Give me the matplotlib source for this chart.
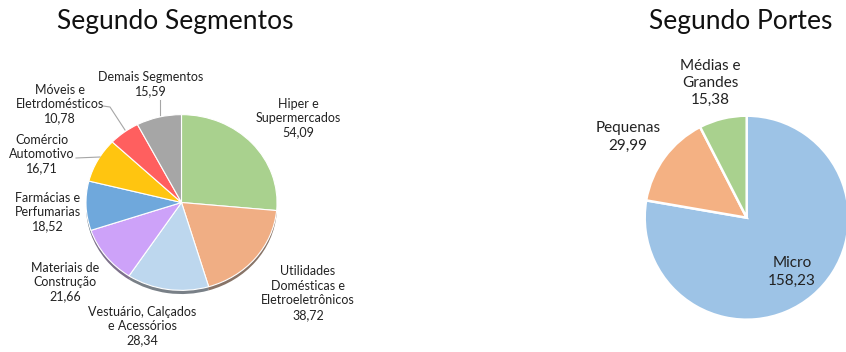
"""Segundo Segmentos / Segundo Portes - two pie charts"""

import matplotlib
matplotlib.use('Agg')
import matplotlib.pyplot as plt
import matplotlib.colors as mcolors
from matplotlib.transforms import Affine2D

plt.rcParams['font.family'] = ['Lato', 'DejaVu Sans']

# Data - left pie (segments), clockwise from the top
seg_labels = ['Hiper e\nSupermercados', 'Utilidades\nDomésticas e\nEletroeletrônicos',
              'Vestuário, Calçados\ne Acessórios', 'Materiais de\nConstrução',
              'Farmácias e\nPerfumarias', 'Comércio\nAutomotivo',
              'Móveis e\nEletrdomésticos', 'Demais Segmentos']
seg_values = [54.09, 38.72, 28.34, 21.66, 18.52, 16.71, 10.78, 15.59]
seg_colors = ['#A9D18E', '#F0AE84', '#BDD7EE', '#CDA2F9',
              '#6FA8DC', '#FFC510', '#FF5F5F', '#A6A6A6']

# Data - right pie (company size), clockwise from the top
size_labels = ['Micro', 'Pequenas', 'Médias e\nGrandes']
size_values = [158.23, 29.99, 15.38]
size_colors = ['#9DC3E6', '#F4B183', '#A9D18E']

W, H = 846, 352


def fmt(v):
    return f'{v:.2f}'.replace('.', ',')


def Y(y):
    # pixel row (from top) -> data y
    return H - y


fig = plt.figure(figsize=(W / 100, H / 100), dpi=100)
ax = fig.add_axes([0, 0, 1, 1])

# Left pie: slightly tilted (elliptical) with a dark rim underneath
cx, cy, r = 181.5, Y(202.5), 95.5
squash = Affine2D().translate(-cx, -cy).scale(1, 0.92).translate(cx, cy)

shadow_colors = [tuple(c * 0.4 for c in mcolors.to_rgb(col)) for col in seg_colors]
shadow, _ = ax.pie(seg_values, colors=shadow_colors, startangle=90, counterclock=False,
                   center=(cx, cy - 4), radius=r, frame=True,
                   wedgeprops=dict(linewidth=0))
for w in shadow:
    w.set_transform(squash + ax.transData)
    w.set_alpha(0.75)

wedges, _ = ax.pie(seg_values, colors=seg_colors, startangle=90, counterclock=False,
                   center=(cx, cy), radius=r, frame=True,
                   wedgeprops=dict(edgecolor='white', linewidth=0.8))
for w in wedges:
    w.set_transform(squash + ax.transData)

# Left labels (pixel positions of label centres)
seg_label_pos = [(298, 118), (308, 293), (142, 326), (65, 282),
                 (48, 212), (42, 154), (60, 104), (151, 84)]
for lab, val, (x, y) in zip(seg_labels, seg_values, seg_label_pos):
    ax.text(x, Y(y), f'{lab}\n{fmt(val)}', ha='center', va='center',
            fontsize=9, linespacing=1.25, color='#222222')

# Leader lines
lc = '#A6A6A6'
ax.plot([160, 160], [Y(100), Y(115)], color=lc, lw=0.8)
ax.plot([103, 110, 125], [Y(106), Y(107), Y(130)], color=lc, lw=0.8)
ax.plot([76, 100], [Y(158), Y(157)], color=lc, lw=0.8)

# Right pie
rx, ry, rr = 746.7, Y(217.7), 102
ax.pie(size_values, colors=size_colors, startangle=90, counterclock=False,
       center=(rx, ry), radius=rr, frame=True,
       wedgeprops=dict(edgecolor='white', linewidth=1.8))

size_label_pos = [(792, 272), (628, 137), (710, 83)]
for lab, val, (x, y) in zip(size_labels, size_values, size_label_pos):
    ax.text(x, Y(y), f'{lab}\n{fmt(val)}', ha='center', va='center',
            fontsize=11, linespacing=1.3, color='#222222')

# Titles
ax.text(175, Y(21), 'Segundo Segmentos', ha='center', va='center', fontsize=19,
        color='#111111')
ax.text(741, Y(21), 'Segundo Portes', ha='center', va='center', fontsize=19,
        color='#111111')

ax.set_xlim(0, W)
ax.set_ylim(0, H)
ax.set_aspect('auto')
ax.axis('off')

fig.savefig('out.png', dpi=100, facecolor='white')
plt.close(fig)
